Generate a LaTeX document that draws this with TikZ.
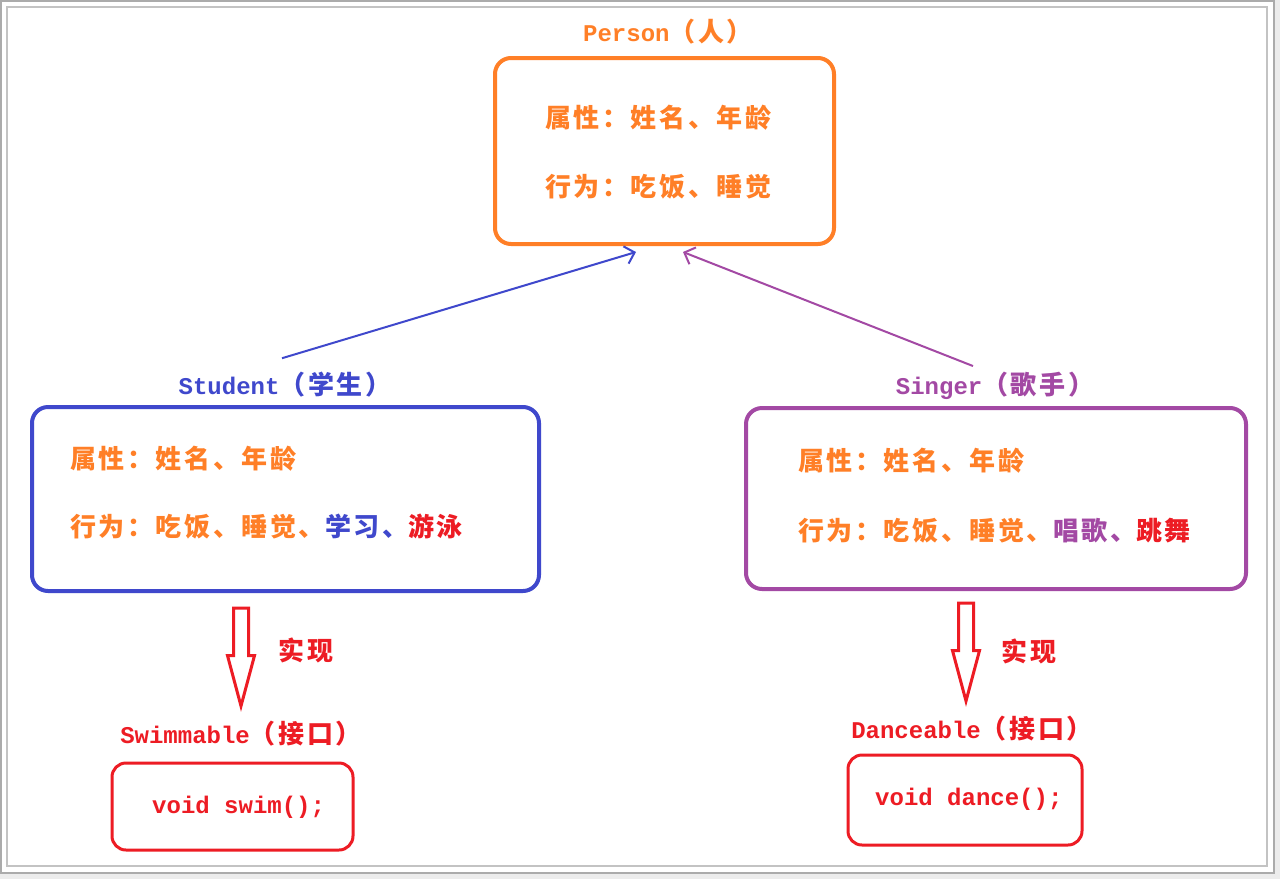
\documentclass[tikz,border=0pt]{standalone}
\usepackage{fontspec}
\setmonofont{Liberation Mono}
\newfontfamily\cjkfam[LetterSpace=10]{Noto Sans CJK SC}
\newcommand\cjk{\cjkfam\bfseries\fontsize{26}{30}\selectfont}
\usetikzlibrary{positioning,calc,arrows.meta,shapes.arrows}

\definecolor{pOrange}{RGB}{255,127,39}
\definecolor{pBlue}{RGB}{63,72,204}
\definecolor{pPurple}{RGB}{163,73,164}
\definecolor{pRed}{RGB}{237,28,36}
\definecolor{frameOut}{RGB}{171,171,171}
\definecolor{frameIn}{RGB}{195,195,195}
\definecolor{frameShade}{RGB}{236,236,236}

\newcommand\lat[1]{{\ttfamily\bfseries #1}}

\begin{document}
\begin{tikzpicture}[x=1pt,y=-1pt,
		every node/.style={font=\fontsize{24}{28}\selectfont,inner sep=0pt},
		title/.style={anchor=center},
		classbox/.style={draw,line width=4pt,rounded corners=16pt},
		ifacebox/.style={draw=pRed,line width=3pt,rounded corners=14pt},
		item/.style={anchor=west,text=pOrange},
		inherit/.style={line width=2pt,-{Straight Barb[length=9pt,width=18pt,line width=2pt]}},
		realize/.style={single arrow,draw=pRed,fill=white,line width=3pt,rotate=-90,anchor=tail,
			inner xsep=0pt,inner ysep=6pt,minimum height=98pt,
			single arrow head extend=6pt,single arrow tip angle=30},
	]
	% frame
	\fill[frameShade] (0,0) rectangle (1280,879);
	\draw[fill=white,draw=frameOut,line width=1.5pt] (0.75,0.75) rectangle (1274,873);
	\draw[frameIn,line width=1.5pt] (7,7) rectangle (1267,866);

	% Person
	\node[title,text=pOrange] (personTitle) at (668,32) {\lat{Person}\cjk（人）};
	\node[classbox,draw=pOrange,minimum width=339pt,minimum height=186pt] (person) at (664.5,151) {};
	\node[item] (personAttr) at (545,118) {\cjk 属性：姓名、年龄};
	\node[item] (personAct) at (545,187) {\cjk 行为：吃饭、睡觉};

	% Student
	\node[title,text=pBlue] (stuTitle) at (285,385) {\lat{Student}\cjk（学生）};
	\node[classbox,draw=pBlue,minimum width=507pt,minimum height=184pt] (student) at (285.5,499) {};
	\node[item] (stuAttr) at (70,459) {\cjk 属性：姓名、年龄};
	\node[item] (stuAct) at (70,527) {\cjk 行为：吃饭、睡觉、\textcolor{pBlue}{学习、}\textcolor{pRed}{游泳}};

	% Singer
	\node[title,text=pPurple] (singTitle) at (995,386) {\lat{Singer}\cjk（歌手）};
	\node[classbox,draw=pPurple,minimum width=500pt,minimum height=181pt] (singer) at (996,498.5) {};
	\node[item] (singAttr) at (798,461) {\cjk 属性：姓名、年龄};
	\node[item] (singAct) at (798,531) {\cjk 行为：吃饭、睡觉、\textcolor{pPurple}{唱歌、}\textcolor{pRed}{跳舞}};

	% inheritance
	\coordinate (stuOut) at ($(stuTitle.north)+(-3,-14)$);
	\coordinate (personInL) at ($(person.south)+(-28.5,6)$);
	\coordinate (singOut) at ($(singTitle.north)+(-22,-6)$);
	\coordinate (personInR) at ($(person.south)+(18.5,6)$);
	\draw[inherit,pBlue] (stuOut) -- (personInL);
	\draw[inherit,pPurple] (singOut) -- (personInR);

	% Swimmable
	\node[realize] (swimArrow) at (241,606.5) {};
	\node[text=pRed] (swimLabel) at (306,650) {\cjk 实现};
	\node[title,text=pRed] (swimTitle) at (241,734) {\lat{Swimmable}\cjk（接口）};
	\node[ifacebox,minimum width=241pt,minimum height=87pt] (swim) at (232.5,806.5) {};
	\node[anchor=west,text=pRed] (swimOp) at (152,807) {\lat{void swim();}};

	% Danceable
	\node[realize] (danceArrow) at (966,601.5) {};
	\node[text=pRed] (danceLabel) at (1029,651) {\cjk 实现};
	\node[title,text=pRed] (danceTitle) at (972,729) {\lat{Danceable}\cjk（接口）};
	\node[ifacebox,minimum width=234pt,minimum height=90pt] (dance) at (965,800) {};
	\node[anchor=west,text=pRed] (danceOp) at (875,799) {\lat{void dance();}};
\end{tikzpicture}
\end{document}
